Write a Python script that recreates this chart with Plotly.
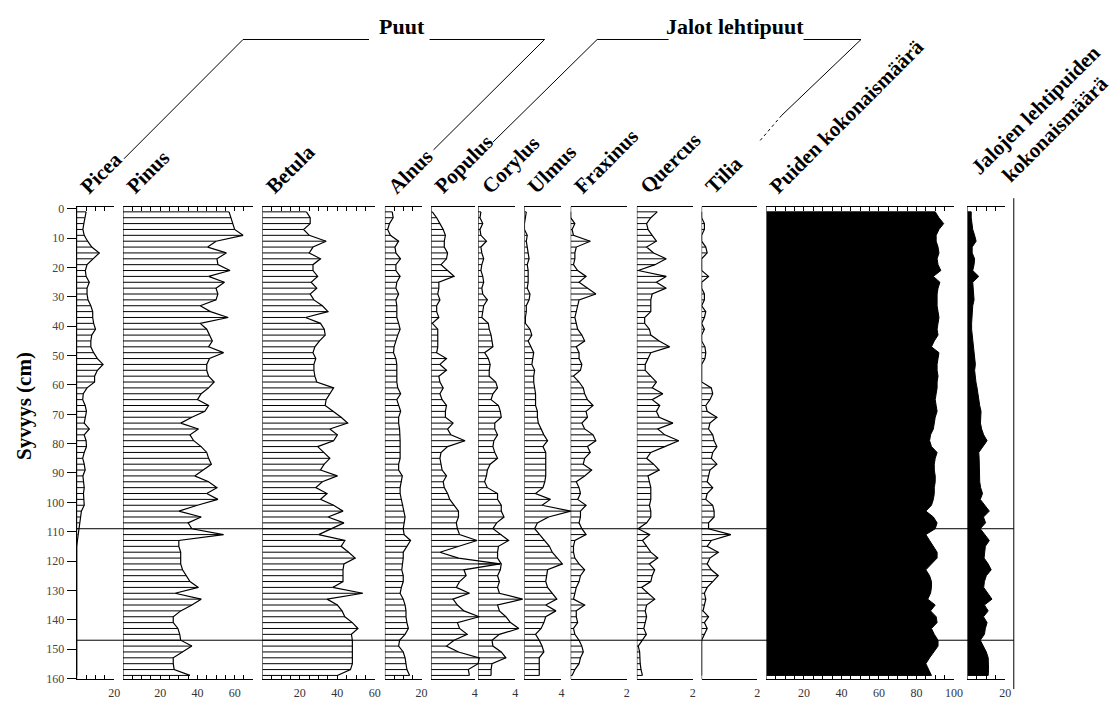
import plotly.graph_objects as go

W, H = 1120, 702

# sample depths (cm)
depths = list(range(1, 160, 2))

# pollen percentages per taxon, top to bottom
picea = [5, 4.2, 3.8, 3.3, 4, 5.8, 8, 12, 8.5, 5.5,
         4.6, 5, 6.7, 5.5, 5.5, 6, 7.5, 8.5, 8.5, 9,
         10, 8, 7.5, 7.5, 9, 11, 14, 11, 9.5, 9.5,
         5.5, 3.5, 3.2, 4.5, 5.2, 4.5, 4, 6.7, 4, 5,
         5.2, 4, 3.2, 4, 4.5, 3.3, 3.5, 4, 3.6, 3.8,
         4, 2.5, 2, 1.5, 1, 0.5, 0.4, 0, 0, 0,
         0, 0, 0, 0, 0, 0, 0, 0, 0, 0,
         0, 0, 0, 0, 0, 0, 0, 0, 0, 0]
pinus = [57, 58, 59, 60, 64.5, 50, 45.5, 55.5, 50.5, 51,
         57.5, 46, 54.5, 50, 51, 50, 41.5, 47, 56.5, 41.5,
         45, 46.5, 48, 46, 54, 46.5, 45, 45, 46, 49,
         46, 42, 40, 46, 44, 37, 31, 40.5, 36, 38,
         42, 45, 46, 47.5, 43, 38.5, 46, 50.5, 45, 51,
         40, 30, 42, 35, 37, 54, 30, 30, 31, 31,
         31, 32, 34, 36, 40.5, 28, 42, 37, 31, 27,
         27, 29.5, 30.5, 31, 37, 32, 27, 27, 27.5, 36]
betula = [23.5, 25.5, 25.5, 22, 25, 34, 27, 25, 31, 27,
          27, 29.5, 26, 29, 25.5, 27.5, 32, 35, 23, 31,
          33, 33.5, 30.5, 28, 27, 28.5, 27.5, 27.5, 28, 29,
          38, 36, 34, 33.5, 38, 42, 45.5, 36, 40, 38,
          29.5, 33, 36, 33, 31, 40, 32, 28.5, 34.5, 31,
          38, 43, 35, 43.5, 37, 30, 44, 42, 46, 49.5,
          43.5, 43, 43, 43, 37.5, 53.5, 34.5, 40, 42.5, 44,
          48, 51, 47.5, 48, 48, 48, 48, 48, 47, 40]
alnus = [4, 4.5, 2.5, 1.5, 3, 7.5, 5.5, 6, 8.5, 6,
         6, 8.3, 6.5, 6, 7.5, 6, 6.5, 6.5, 6.5, 7.5,
         8.3, 7, 6, 5, 4.7, 6, 6.5, 6.5, 6.5, 6.5,
         7, 8.6, 6.5, 7.5, 8.6, 7.5, 7.5, 8, 8.3, 8.3,
         8.3, 8.3, 8.3, 7.5, 7.5, 9.5, 9, 8.3, 8.3, 9,
         10, 10.5, 11, 10.5, 10, 10.5, 14, 12, 10, 10,
         9.5, 9.2, 10, 10, 9, 8.3, 10, 11, 11.5, 11.5,
         12, 12.8, 11, 8, 7.5, 10, 11, 11.5, 12, 13.5]
populus = [0.1, 0.5, 0.8, 1.1, 1.3, 1.2, 1.2, 1.5, 1.4, 0.9,
           1.5, 2.1, 0.7, 0.7, 0.6, 0.8, 0.5, 0.5, 0.7, 0.1,
           0.6, 0.6, 0.6, 0.6, 0.5, 1.4, 0.8, 1.4, 0.7, 0.8,
           1.1, 0.8, 1.0, 1.4, 1.3, 1.3, 2.0, 1.5, 1.8, 3.1,
           1.5, 0.9, 0.8, 0.9, 1.0, 1.4, 1.1, 1.2, 1.5, 1.7,
           2.1, 2.5, 2.5, 2.3, 2.4, 2.6, 4.2, 2.5, 0.8, 2.5,
           6.3, 3.0, 3.2, 2.6, 2.3, 3.5, 2.0, 2.4, 3.0, 4.4,
           2.4, 2.6, 3.3, 2.1, 1.4, 2.5, 4.4, 4.3, 3.4, 3.5]
corylus = [0.3, 0.2, 0.5, 0.2, 0.3, 0.9, 0.3, 0.4, 0.6, 0.4,
           0.3, 0.5, 0.6, 0.4, 0.5, 1.0, 0.6, 0.5, 0.4, 1.1,
           1.2, 1.4, 1.5, 1.6, 0.7, 1.1, 1.3, 1.2, 1.2, 1.9,
           2.1, 1.6, 1.4, 2.2, 2.4, 2.5, 1.8, 1.8, 2.1, 1.7,
           1.6, 1.8, 2.1, 1.3, 1.0, 0.9, 0.7, 1.0, 2.1, 2.1,
           2.5, 2.5, 2.8, 2.0, 1.6, 2.5, 3.3, 2.2, 2.1, 2.1,
           2.5, 2.4, 2.1, 2.3, 2.1, 2.3, 4.8, 2.1, 2.3, 3.0,
           3.5, 4.4, 2.3, 1.5, 1.6, 2.5, 3.0, 1.5, 1.4, 1.4]
ulmus = [0.2, 0.1, 0, 0, 0.3, 0.2, 0.3, 0.4, 0.5, 0.3,
         0.4, 0.4, 0.4, 0.3, 0.6, 0.5, 0.2, 0.2, 0.1, 0.1,
         0.6, 0.8, 0.4, 0.7, 1.0, 0.9, 0.8, 1.1, 1.0, 1.0,
         1.1, 1.2, 1.2, 1.2, 1.4, 1.4, 1.5, 1.8, 2.1, 2.5,
         2.0, 2.3, 2.3, 2.3, 2.3, 2.3, 2.2, 2.0, 1.2, 2.8,
         1.9, 5.0, 2.6, 1.4, 1.1, 1.6, 2.2, 2.7, 3.0, 3.5,
         4.1, 2.5, 2.4, 2.3, 2.5, 3.0, 3.5, 2.3, 3.4, 2.3,
         2.1, 1.8, 1.2, 1.6, 1.9, 2.1, 1.6, 1.6, 1.6, 1.6]
fraxinus = [0, 0, 0.15, 0.05, 0.1, 0.7, 0.2, 0.15, 0.15, 0.1,
            0.25, 0.55, 0.3, 0.6, 0.9, 0.3, 0.25, 0.2, 0.15, 0.2,
            0.25, 0.4, 0.5, 0.2, 0.3, 0.3, 0.4, 0.35, 0.1, 0.3,
            0.45, 0.5, 0.6, 0.8, 0.55, 0.6, 0.4, 0.5, 0.8, 0.9,
            0.6, 0.7, 0.5, 0.45, 0.75, 0.5, 0.2, 0.3, 0.35, 0.25,
            0.55, 0.35, 0.35, 0.3, 0.4, 0.55, 0.15, 0.1, 0.1, 0.15,
            0.3, 0.5, 0.35, 0.3, 0.2, 0.15, 0.1, 0.5, 0.2, 0.2,
            0.25, 0.1, 0.15, 0.3, 0.4, 0.45, 0.35, 0.3, 0.15, 0.05]
quercus = [0.73, 0.5, 0.35, 0.4, 0.55, 0.7, 0.35, 0.6, 1.05, 0.65,
           0.05, 1.05, 0.7, 1.05, 0.55, 0.5, 0.5, 0.5, 0.28, 0.28,
           0.45, 0.5, 0.8, 1.17, 0.5, 0.4, 0.3, 0.3, 0.5, 0.7,
           0.55, 0.93, 0.55, 0.82, 0.7, 0.8, 1.29, 0.75, 1.0, 1.5,
           1.0, 0.5, 0.35, 0.6, 0.8, 0.4, 0.45, 0.5, 0.5, 0.5,
           0.45, 0.5, 0.5, 0.35, 0.05, 0.46, 0.2, 0.35, 0.5, 0.75,
           0.45, 0.64, 0.55, 0.5, 0.17, 0.4, 0.64, 0.35, 0.3, 0.35,
           0.3, 0.25, 0.34, 0.2, 0.05, 0.1, 0.1, 0.12, 0.15, 0.2]
tilia = [0, 0, 0.1, 0.1, 0, 0, 0.15, 0.2, 0, 0,
         0, 0.25, 0, 0, 0.1, 0.1, 0, 0.15, 0.1, 0,
         0.1, 0, 0, 0.12, 0.15, 0.12, 0, 0, 0, 0,
         0.35, 0.4, 0.3, 0.15, 0.2, 0.55, 0.3, 0.25, 0.4, 0.45,
         0.55, 0.4, 0.35, 0.55, 0.3, 0.25, 0.2, 0.4, 0.2, 0.15,
         0.4, 0.45, 0.45, 0.25, 0.25, 1.05, 0.35, 0.2, 0.6, 0.3,
         0.2, 0.35, 0.6, 0.4, 0.2, 0.1, 0.15, 0.1, 0.05, 0.25,
         0.1, 0.2, 0.1, 0, 0, 0, 0, 0, 0, 0]
trees_total = [90, 92, 94.5, 92, 90.5, 90.5, 91.5, 92, 91, 91.5,
               93, 89, 92.5, 91.5, 91, 91, 91, 91.5, 92, 91.5,
               91, 91.5, 89.5, 88, 92, 91.5, 91, 91, 91.5, 91,
               91, 90.5, 90, 90.5, 91, 90, 89.5, 89, 87.5, 87,
               88, 91, 90, 89.5, 89.5, 90, 90, 89.5, 89.5, 89,
               88, 85, 89, 91, 90, 85, 87, 89, 91, 91,
               88, 85, 87, 88, 88, 87.5, 86, 90, 87.5, 90.5,
               91, 88, 89.5, 91.5, 91.5, 89, 87, 85, 86.5, 88]
noble_total = [2, 2, 2.3, 2.8, 3.8, 4.6, 2.5, 2.5, 3.8, 3.5,
               2.8, 6, 2.8, 3, 3.5, 3.5, 2.8, 2.5, 2.2, 2.2,
               2.2, 2.6, 3, 3.2, 3.5, 4, 4.2, 3.8, 4, 4.5,
               5.1, 5.5, 6, 6.5, 7.2, 7.2, 6.9, 7.5, 8.6, 10.4,
               8, 6, 6.2, 6.3, 6.3, 6.3, 6.5, 7, 8, 6.8,
               9, 11.6, 8.5, 9.6, 6.8, 9, 11.6, 9.5, 9, 8.8,
               11, 12.6, 10, 9, 8.6, 11, 13, 9, 11, 8.5,
               10.4, 9.5, 9, 6.8, 8.5, 10, 11, 11.2, 11.2, 11]

taxa = ["Picea", "Pinus", "Betula", "Alnus", "Populus", "Corylus", "Ulmus",
        "Fraxinus", "Quercus", "Tilia", "Puiden kokonaismäärä",
        "Jalojen lehtipuiden<br>kokonaismäärä"]
series = [picea, pinus, betula, alnus, populus, corylus, ulmus,
          fraxinus, quercus, tilia, trees_total, noble_total]
axis_max = [20, 70, 60, 20, 4, 4, 4, 2, 2, 2, 100, 20]
tick_step = [5, 5, 5, 5, 4, 4, 4, 2, 2, 2, 5, 5]
tick_labels = [[20], [20, 40, 60], [20, 40, 60], [20], [4], [4], [4],
               [2], [2], [2], [20, 40, 60, 80, 100], [20]]
silhouette = [False] * 10 + [True, True]

zone_depths = [109, 147]
depth_ticks = list(range(0, 161, 10))

# panel placement on the page (pixels)
panel_left = [77.3, 124.0, 264.5, 388.0, 434.7, 482.0, 528.7, 575.3, 642.0, 707.3, 772.7, 975.3]
panel_right = [115.3, 255.3, 377.9, 425.0, 478.7, 519.3, 566.0, 631.7, 698.3, 763.3, 961.7, 1013.3]
Y_TOP, Y_BOT = 205.5, 685.0
DEPTH_RANGE = [160.3, -0.8]

SERIF = "Liberation Serif"


def px(x):
    return x / W


def py(y):
    return 1 - y / H


fig = go.Figure()
layout = {}
shapes = []
annotations = []

layout["yaxis"] = dict(
    domain=[py(Y_BOT), py(Y_TOP)], range=DEPTH_RANGE, anchor="x", side="left",
    showline=True, linecolor="black", linewidth=1, ticks="outside", ticklen=9,
    tickcolor="black", tickvals=depth_ticks,
    tickfont=dict(family=SERIF, size=12, color="#444"),
    showgrid=False, zeroline=False, fixedrange=True,
)

n = len(taxa)
for i in range(n):
    left, right, vmax = panel_left[i], panel_right[i], axis_max[i]
    disp_ref = "x" if i == 0 else f"x{i + 1}"
    disp_key = "xaxis" if i == 0 else f"xaxis{i + 1}"
    data_num = n + i + 1
    data_ref = f"x{data_num}"

    step = tick_step[i]
    tv = [k * step for k in range(int(round(vmax / step)) + 1)]
    tt = [str(v) if v in tick_labels[i] else "" for v in tv]
    layout[disp_key] = dict(
        domain=[px(left), px(right)], range=[0, vmax], anchor="y", side="bottom",
        showline=True, linecolor="black", linewidth=1, mirror="ticks",
        ticks="inside", ticklen=4, tickwidth=1, tickcolor="black",
        tickvals=tv, ticktext=tt, ticklabelstandoff=2,
        tickfont=dict(family=SERIF, size=12, color="#333"),
        showgrid=False, zeroline=False, fixedrange=True,
    )
    # transparent anchor so the scale axis of the panel gets drawn
    fig.add_trace(go.Scatter(
        x=[0], y=[depths[0]], xaxis=disp_ref, yaxis="y", mode="markers",
        marker=dict(size=1, opacity=0), hoverinfo="skip", showlegend=False,
    ))

    # wider drawing axis with the same scale, so peaks may run past the frame
    ext_right = min(right + 45, W)
    ext_max = vmax * (ext_right - left) / (right - left)
    layout[f"xaxis{data_num}"] = dict(
        domain=[px(left), px(ext_right)], range=[0, ext_max], anchor="y",
        visible=False, fixedrange=True,
    )

    vals = series[i]
    if silhouette[i]:
        fig.add_trace(go.Scatter(
            x=[0] + vals + [0], y=[depths[0]] + depths + [depths[-1]],
            xaxis=data_ref, yaxis="y", mode="lines", fill="toself",
            fillcolor="black", line=dict(color="black", width=1),
            hoverinfo="skip", showlegend=False,
        ))
    else:
        bx, by = [], []
        for d, v in zip(depths, vals):
            bx += [0, v, None]
            by += [d, d, None]
        fig.add_trace(go.Scatter(
            x=bx, y=by, xaxis=data_ref, yaxis="y", mode="lines",
            line=dict(color="black", width=1), hoverinfo="skip", showlegend=False,
        ))
        fig.add_trace(go.Scatter(
            x=vals, y=depths, xaxis=data_ref, yaxis="y", mode="lines",
            line=dict(color="black", width=1.2), hoverinfo="skip", showlegend=False,
        ))

    # zero baseline of the panel
    shapes.append(dict(type="line", xref=data_ref, yref="y domain",
                       x0=0, x1=0, y0=0, y1=1, line=dict(color="black", width=1)))

    # rotated taxon name
    annotations.append(dict(
        text=f"<b>{taxa[i]}</b>", x=px(left - 4), y=py(200),
        xref="paper", yref="paper", xanchor="left", yanchor="bottom",
        textangle=-45, showarrow=False, align="center",
        font=dict(family=SERIF, size=21, color="black"),
    ))

# zone boundaries
for zd in zone_depths:
    shapes.append(dict(type="line", xref="paper", yref="y", x0=px(77.3), x1=px(1022),
                       y0=zd, y1=zd, line=dict(color="black", width=1)))

# right frame line
shapes.append(dict(type="line", xref="paper", yref="paper", x0=px(1022), x1=px(1022),
                   y0=py(197), y1=py(695), line=dict(color="black", width=1)))

# group brackets
bracket = [
    ((125, 157), (245, 36)), ((245, 36), (372, 36)),
    ((433, 36), (549, 36)), ((549, 36), (437, 148)),
    ((497, 140), (602, 36)), ((602, 36), (674, 36)),
    ((810, 36), (868, 36)), ((868, 36), (788, 113)),
]
for (x0, y0), (x1, y1) in bracket:
    shapes.append(dict(type="line", xref="paper", yref="paper",
                       x0=px(x0), y0=py(y0), x1=px(x1), y1=py(y1),
                       line=dict(color="black", width=1)))
shapes.append(dict(type="line", xref="paper", yref="paper",
                   x0=px(788), y0=py(113), x1=px(765), y1=py(140),
                   line=dict(color="black", width=1, dash="dot")))

annotations.append(dict(text="<b>Puut</b>", x=px(405), y=py(23), xref="paper", yref="paper",
                        xanchor="center", yanchor="middle", showarrow=False,
                        font=dict(family=SERIF, size=22, color="black")))
annotations.append(dict(text="<b>Jalot lehtipuut</b>", x=px(741), y=py(23), xref="paper",
                        yref="paper", xanchor="center", yanchor="middle", showarrow=False,
                        font=dict(family=SERIF, size=22, color="black")))
annotations.append(dict(text="<b>Syvyys (cm)</b>", x=px(24), y=py(408), xref="paper",
                        yref="paper", xanchor="center", yanchor="middle", textangle=-90,
                        showarrow=False, font=dict(family=SERIF, size=21, color="black")))

fig.update_layout(
    width=W, height=H, autosize=False,
    margin=dict(l=0, r=0, t=0, b=0, pad=0),
    paper_bgcolor="white", plot_bgcolor="rgba(0,0,0,0)",
    showlegend=False, shapes=shapes, annotations=annotations,
    **layout,
)

fig.write_html("out.html")
